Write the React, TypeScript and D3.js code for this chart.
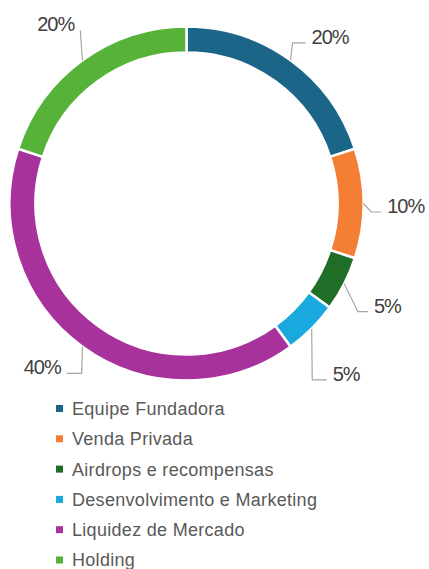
import React from "react";
import * as d3 from "d3";

const categories = [
  "Equipe Fundadora",
  "Venda Privada",
  "Airdrops e recompensas",
  "Desenvolvimento e Marketing",
  "Liquidez de Mercado",
  "Holding",
];
const values = [20, 10, 5, 5, 40, 20];
const colors = ["#1b6688", "#f57e35", "#1f6e28", "#19a9df", "#a8329c", "#57b23a"];

// label layout: [elbow dx, elbow dy, end dx, end dy, text anchor]
const labelLayout: [number, number, number, number, "start" | "end"][] = [
  [2, -17.5, 15, -17.5, "start"],
  [7.7, 8.5, 17.7, 8.5, "start"],
  [13.8, 27.8, 23.8, 27.8, "start"],
  [0.6, 51.3, 15, 51.3, "start"],
  [-0.8, 26.6, -15.8, 26.6, "end"],
  [-2.2, -30, -2.2, -30, "end"],
];

export default function App() {
  const W = 429;
  const H = 569;
  const cx = 186.5;
  const cy = 203.5;
  const rOuter = 177;
  const rInner = 151;

  const pie = d3.pie<number>().sort(null).value((d) => d);
  const arcs = pie(values);
  const arcGen = d3
    .arc<d3.PieArcDatum<number>>()
    .innerRadius(rInner)
    .outerRadius(rOuter);

  const legendY = d3.scaleLinear().domain([0, 1]).range([408.5, 438.8]);

  return (
    <svg
      width={W}
      height={H}
      style={{ position: "absolute", left: 0, top: 0 }}
    >
      <rect width={W} height={H} fill="#ffffff" />
      <g transform={`translate(${cx},${cy})`}>
        {arcs.map((a, i) => (
          <path
            key={i}
            d={arcGen(a) || ""}
            fill={colors[i]}
            stroke="#ffffff"
            strokeWidth={2.5}
          />
        ))}
        {arcs.map((a, i) => {
          const mid = (a.startAngle + a.endAngle) / 2;
          const x0 = rOuter * Math.sin(mid);
          const y0 = -rOuter * Math.cos(mid);
          const [ex, ey, tx, ty, anchor] = labelLayout[i];
          const x1 = x0 + ex;
          const y1 = y0 + ey;
          const x2 = x0 + tx;
          const y2 = y0 + ty;
          const textX = anchor === "start" ? x2 + 6 : x2 - 6;
          return (
            <g key={"l" + i}>
              <polyline
                points={`${x0},${y0} ${x1},${y1} ${x2},${y2}`}
                fill="none"
                stroke="#a6a6a6"
                strokeWidth={1.2}
              />
              <text
                x={textX}
                y={y2 + 1}
                textAnchor={anchor}
                fontFamily="Liberation Sans, Arial, sans-serif"
                fontSize={20}
                letterSpacing={-1}
                fill="#404040"
              >
                {values[i] + "%"}
              </text>
            </g>
          );
        })}
      </g>
      <g>
        {categories.map((c, i) => (
          <g key={c} transform={`translate(0,${legendY(i)})`}>
            <rect x={56} y={-3.5} width={7} height={7} fill={colors[i]} />
            <text
              x={72}
              y={0}
              dy="0.36em"
              fontFamily="Liberation Sans, Arial, sans-serif"
              fontSize={18}
              letterSpacing={0.3}
              fill="#595959"
            >
              {c}
            </text>
          </g>
        ))}
      </g>
    </svg>
  );
}
